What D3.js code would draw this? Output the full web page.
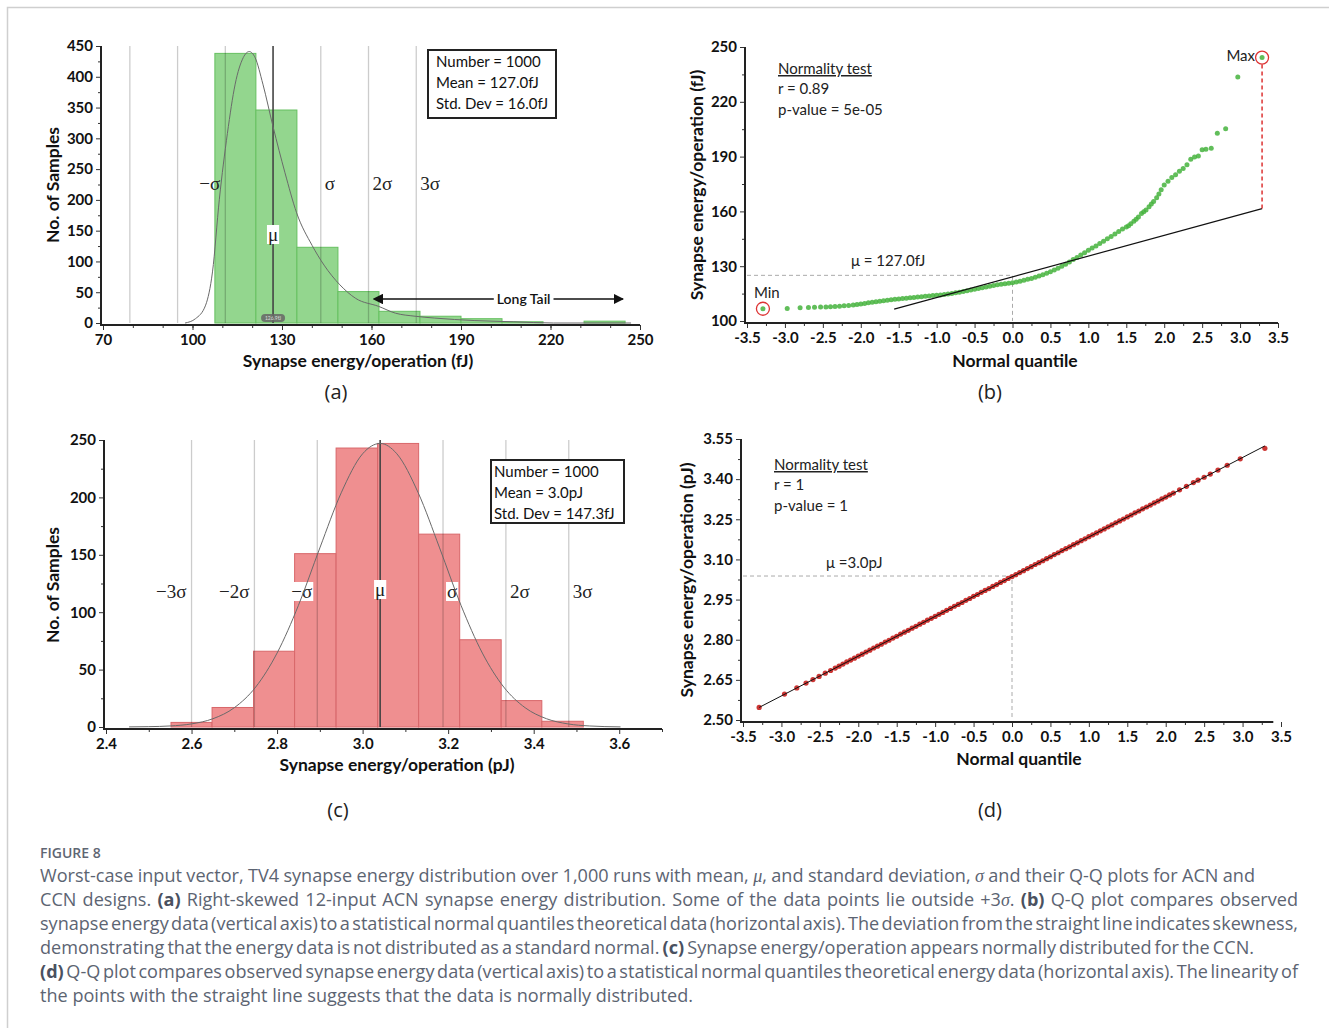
<!DOCTYPE html>
<html>
<head>
<meta charset="utf-8">
<script src="https://cdn.jsdelivr.net/npm/d3@7"></script>
<style>
  body { margin: 0; background: #fff; }
  svg { display: block; }
  .tick text { font-family: Lato, "Open Sans", sans-serif; font-weight: 700; font-size: 15px; fill: #111; }
  .tick line { stroke: #333; }
</style>
</head>
<body>
<div id="chart"></div>
<script>

// ---------- (a) ACN histogram, fJ ----------
var binEdgesA = [107.5, 121.25, 135, 148.75, 162.5, 176.25, 190, 203.75, 217.5, 231.25, 245];
var countsA = [438, 346, 123, 51, 19, 11, 7, 2, 0, 3];
var curveAx = [97.5, 101, 104.4, 106.7, 109, 111.7, 114.3, 117, 119, 121, 123.6, 127, 131, 134.9, 140.1, 144.1, 149.4, 154.7, 162.4, 168, 174.6, 181.2, 194.4, 207.7, 221, 247];
var curveAy = [0, 7, 29, 83, 201, 308, 388, 431, 441, 431, 388, 319, 244, 179, 126, 94, 62, 40, 27, 16, 11, 8, 4, 2, 0, 0];
var meanA = 127, sdA = 16;
var statsA = ["Number = 1000", "Mean = 127.0fJ", "Std. Dev = 16.0fJ"];
var xTicksA = [70, 100, 130, 160, 190, 220, 250];
var yTicksA = [0, 50, 100, 150, 200, 250, 300, 350, 400, 450];

// ---------- (b) ACN Q-Q plot ----------
var qB = [-3.29, -2.97, -2.80, -2.69, -2.61, -2.53, -2.46, -2.40, -2.34, -2.28, -2.22, -2.16, -2.10, -2.05, -2.00, -1.95, -1.90, -1.85, -1.80, -1.75, -1.70, -1.65, -1.60, -1.55, -1.50, -1.45, -1.40, -1.35, -1.30, -1.25, -1.20, -1.15, -1.10, -1.05, -1.00,
  -0.95, -0.90, -0.85, -0.80, -0.75, -0.70, -0.65, -0.60, -0.55, -0.50, -0.45, -0.40, -0.35, -0.30, -0.25, -0.20, -0.15, -0.10, -0.05, 0.00,
  0.05, 0.10, 0.15, 0.20, 0.25, 0.30, 0.35, 0.40, 0.45, 0.50, 0.55, 0.60, 0.65, 0.70, 0.75, 0.80, 0.85, 0.90, 0.95, 1.00,
  1.05, 1.10, 1.15, 1.20, 1.25, 1.30, 1.35, 1.40, 1.45, 1.50, 1.53, 1.56, 1.60, 1.63, 1.66, 1.70, 1.73, 1.76, 1.80, 1.83, 1.86, 1.90, 1.93, 1.96, 2.00,
  2.05, 2.10, 2.15, 2.20, 2.25, 2.30, 2.35, 2.40, 2.45, 2.50, 2.55, 2.62, 2.70, 2.81, 2.97, 3.29];
var vB = [106.7, 106.9, 107.2, 107.4, 107.5, 107.6, 107.7, 107.8, 108.0, 108.1, 108.3, 108.5, 108.8, 109.0, 109.3, 109.6, 110.0, 110.3, 110.6, 110.8, 111.1, 111.4, 111.6, 111.9, 112.1, 112.3, 112.5, 112.7, 112.9, 113.1, 113.3, 113.5, 113.7, 113.9, 114.1,
  114.3, 114.5, 114.8, 115.1, 115.4, 115.8, 116.2, 116.6, 117.0, 117.4, 117.8, 118.2, 118.6, 119.0, 119.4, 119.8, 120.1, 120.4, 120.7, 121.0,
  121.4, 121.8, 122.3, 122.8, 123.3, 123.9, 124.6, 125.3, 126.1, 127.0, 127.9, 128.9, 130.0, 131.1, 132.3, 133.6, 134.8, 136.1, 137.4, 138.7,
  139.9, 141.1, 142.4, 143.7, 145.0, 146.3, 147.6, 149.0, 150.4, 151.5, 152.2, 153.2, 154.6, 155.7, 156.9, 158.8, 159.8, 160.8, 162.5, 164.0, 165.4, 167.5, 169.5, 171.8, 174.5,
  176.5, 178.5, 180.0, 182.0, 183.5, 185.5, 188.5, 189.8, 190.3, 193.8, 194.0, 194.6, 202.8, 205.2, 233.6, 244.2];
var fitB = [[-1.56, 106.5], [3.29, 161.5]];
var muLevelB = 125;
var normB = ["r = 0.89", "p-value = 5e-05"];
var qTicks = [-3.5, -3.0, -2.5, -2.0, -1.5, -1.0, -0.5, 0.0, 0.5, 1.0, 1.5, 2.0, 2.5, 3.0, 3.5];
var yTicksB = [100, 130, 160, 190, 220, 250];

// ---------- (c) CCN histogram, pJ ----------
var binEdgesC = [2.552, 2.648, 2.745, 2.841, 2.938, 3.035, 3.131, 3.227, 3.324, 3.419, 3.516];
var countsC = [4, 17, 66, 151, 243, 247, 168, 76, 23, 5];
var curveCx = [2.454, 2.50, 2.55, 2.60, 2.65, 2.70, 2.75, 2.80, 2.85, 2.90, 2.95, 3.00, 3.041, 3.08, 3.13, 3.18, 3.23, 3.28, 3.33, 3.38, 3.43, 3.48, 3.53, 3.603];
var curveCy = [0.1, 0.3, 0.9, 2.7, 7.2, 16.8, 34.8, 64.4, 106, 156, 204, 238, 247, 238, 204, 156, 106, 64.4, 34.8, 16.8, 7.2, 2.7, 0.9, 0.1];
var meanC = 3.041, sdC = 0.147;
var statsC = ["Number = 1000", "Mean = 3.0pJ", "Std. Dev = 147.3fJ"];
var xTicksC = [2.4, 2.6, 2.8, 3.0, 3.2, 3.4, 3.6];
var yTicksC = [0, 50, 100, 150, 200, 250];

// ---------- (d) CCN Q-Q plot ----------
var qD = [-3.29, -2.96, -2.80, -2.68, -2.59, -2.51, -2.43, -2.36, -2.30, -2.25,
  -2.20, -2.15, -2.10, -2.05, -2.00, -1.95, -1.90, -1.85, -1.80, -1.75, -1.70, -1.65, -1.60, -1.55, -1.50, -1.45, -1.40, -1.35, -1.30, -1.25, -1.20, -1.15, -1.10, -1.05, -1.00,
  -0.95, -0.90, -0.85, -0.80, -0.75, -0.70, -0.65, -0.60, -0.55, -0.50, -0.45, -0.40, -0.35, -0.30, -0.25, -0.20, -0.15, -0.10, -0.05, 0.00,
  0.05, 0.10, 0.15, 0.20, 0.25, 0.30, 0.35, 0.40, 0.45, 0.50, 0.55, 0.60, 0.65, 0.70, 0.75, 0.80, 0.85, 0.90, 0.95, 1.00,
  1.05, 1.10, 1.15, 1.20, 1.25, 1.30, 1.35, 1.40, 1.45, 1.50, 1.55, 1.60, 1.65, 1.70, 1.75, 1.80, 1.85, 1.90, 1.95, 2.00, 2.05, 2.10,
  2.18, 2.27, 2.36, 2.42, 2.50, 2.58, 2.68, 2.80, 2.97, 3.29];
var vD = [2.547, 2.597, 2.620, 2.638, 2.651, 2.663, 2.675, 2.685, 2.694, 2.701,
  2.709, 2.717, 2.724, 2.731, 2.739, 2.746, 2.754, 2.761, 2.769, 2.776, 2.783, 2.791, 2.798, 2.806, 2.813, 2.821, 2.828, 2.835, 2.843, 2.850, 2.858, 2.865, 2.873, 2.880, 2.887,
  2.895, 2.902, 2.910, 2.917, 2.925, 2.932, 2.939, 2.947, 2.954, 2.962, 2.969, 2.977, 2.984, 2.991, 2.999, 3.006, 3.014, 3.021, 3.029, 3.036,
  3.043, 3.051, 3.058, 3.066, 3.073, 3.081, 3.088, 3.095, 3.103, 3.110, 3.118, 3.125, 3.133, 3.140, 3.147, 3.155, 3.162, 3.170, 3.177, 3.185,
  3.192, 3.199, 3.207, 3.214, 3.222, 3.229, 3.237, 3.244, 3.251, 3.259, 3.266, 3.274, 3.281, 3.289, 3.296, 3.303, 3.311, 3.318, 3.326, 3.333, 3.341, 3.348,
  3.360, 3.373, 3.387, 3.396, 3.407, 3.419, 3.434, 3.452, 3.476, 3.515];
var fitD = [[-3.29, 2.547], [3.29, 3.524]];
var muLevelD = 3.038;
var normD = ["r = 1", "p-value = 1"];
var yTicksD = [2.50, 2.65, 2.80, 2.95, 3.10, 3.25, 3.40, 3.55];

var sigmaK = [-3, -2, -1, 0, 1, 2, 3];
var sigmaLabelsA = ["", "", "−σ", "μ", "σ", "2σ", "3σ"];
var sigmaLabelsC = ["−3σ", "−2σ", "−σ", "μ", "σ", "2σ", "3σ"];

var captionLines = [
  [["Worst-case input vector, TV4 synapse energy distribution over 1,000 runs with mean, "], ["μ", "i"], [", and standard deviation, "], ["σ", "i"], [" and their Q-Q plots for ACN and"]],
  [["CCN designs. "], ["(a)", "b"], [" Right-skewed 12-input ACN synapse energy distribution. Some of the data points lie outside +3"], ["σ", "i"], [". "], ["(b)", "b"], [" Q-Q plot compares observed"]],
  [["synapse energy data (vertical axis) to a statistical normal quantiles theoretical data (horizontal axis). The deviation from the straight line indicates skewness,"]],
  [["demonstrating that the energy data is not distributed as a standard normal. "], ["(c)", "b"], [" Synapse energy/operation appears normally distributed for the CCN."]],
  [["(d)", "b"], [" Q-Q plot compares observed synapse energy data (vertical axis) to a statistical normal quantiles theoretical energy data (horizontal axis). The linearity of"]],
  [["the points with the straight line suggests that the data is normally distributed."]]
];
var captionWidths = [1215, 1258, 1258, 1214, 1258, 653];

var svg, width = 1329, height = 1028;
var FONT = "Lato, 'Open Sans', sans-serif";
var SERIF = "'Liberation Serif', 'DejaVu Serif', serif";

function init() {
    svg = d3.select("#chart").append("svg")
        .attr("width", width)
        .attr("height", height);

    svg.append("rect").attr("width", width).attr("height", height).attr("fill", "#fff");
    // faint page frame
    svg.append("path")
        .attr("d", "M7.5," + height + " V7.5 H" + width)
        .attr("fill", "none")
        .attr("stroke", "#cfcfcf")
        .attr("stroke-width", 1.5);

    drawPanelA();
    drawPanelB();
    drawPanelC();
    drawPanelD();
    drawCaption();
}

// axes with major/minor ticks, own axis lines
function drawAxes(x, y, o) {
    var gxMinor = svg.append("g").attr("transform", "translate(0," + o.xAt + ")")
        .call(d3.axisBottom(x).tickValues(o.xMinor).tickSize(3).tickFormat(""));
    var gx = svg.append("g").attr("transform", "translate(0," + o.xAt + ")")
        .call(d3.axisBottom(x).tickValues(o.xMajor).tickSize(5).tickPadding(4).tickFormat(o.xFmt));
    var gyMinor = svg.append("g").attr("transform", "translate(" + o.yAt + ",0)")
        .call(d3.axisLeft(y).tickValues(o.yMinor).tickSize(3).tickFormat(""));
    var gy = svg.append("g").attr("transform", "translate(" + o.yAt + ",0)")
        .call(d3.axisLeft(y).tickValues(o.yMajor).tickSize(5).tickPadding(3).tickFormat(o.yFmt));
    [gxMinor, gx, gyMinor, gy].forEach(function (g) { g.select(".domain").remove(); });

    svg.append("line")   // x axis line
        .attr("x1", o.xLine[0]).attr("x2", o.xLine[1])
        .attr("y1", o.xAt).attr("y2", o.xAt)
        .attr("stroke", "#222").attr("stroke-width", 2);
    svg.append("line")   // y axis line
        .attr("x1", o.yAt).attr("x2", o.yAt)
        .attr("y1", o.yLine[0]).attr("y2", o.yLine[1])
        .attr("stroke", "#222").attr("stroke-width", 2);
}

function axisTitles(xTitle, xPos, yTitle, yPos, letter, letterPos) {
    svg.append("text")
        .attr("x", xPos[0]).attr("y", xPos[1])
        .attr("text-anchor", "middle")
        .style("font-family", FONT).style("font-weight", 700).style("font-size", "17.5px")
        .attr("fill", "#111")
        .text(xTitle);
    svg.append("text")
        .attr("transform", "translate(" + yPos[0] + "," + yPos[1] + ") rotate(-90)")
        .attr("text-anchor", "middle")
        .style("font-family", FONT).style("font-weight", 700).style("font-size", "17.5px")
        .attr("fill", "#111")
        .text(yTitle);
    svg.append("text")
        .attr("x", letterPos[0]).attr("y", letterPos[1])
        .attr("text-anchor", "middle")
        .style("font-family", "'Open Sans', sans-serif").style("font-size", "20px")
        .attr("fill", "#222")
        .text(letter);
}

// put a white box behind a text element
function whiteBg(t, pad) {
    var b = t.node().getBBox();
    svg.insert("rect", function () { return t.node(); })
        .attr("x", b.x - pad).attr("y", b.y + 1)
        .attr("width", b.width + 2 * pad).attr("height", b.height - 2)
        .attr("fill", "#fff");
}

function statsBox(x0, y0, w, h, pad, lines) {
    svg.append("rect")
        .attr("x", x0).attr("y", y0).attr("width", w).attr("height", h)
        .attr("fill", "#fff").attr("stroke", "#222").attr("stroke-width", 2);
    svg.selectAll(null)
        .data(lines)
        .join("text")
        .attr("x", x0 + pad)
        .attr("y", function (d, i) { return y0 + 17 + i * 21; })
        .style("font-family", FONT).style("font-size", "15px")
        .attr("fill", "#111")
        .text(function (d) { return d; });
}

function sigmaLines(x, yTop, yBot, mean, sd, labels, labelY, bgSet) {
    svg.selectAll(null)
        .data(sigmaK)
        .join("line")
        .attr("x1", function (k) { return x(mean + k * sd); })
        .attr("x2", function (k) { return x(mean + k * sd); })
        .attr("y1", yTop).attr("y2", yBot)
        .attr("stroke", function (k) { return k == 0 ? "#444" : "rgba(0,0,0,0.2)"; })
        .attr("stroke-width", function (k) { return k == 0 ? 1.6 : 1.3; });

    sigmaK.forEach(function (k, i) {
        if (!labels[i]) return;
        var lx = x(mean + k * sd);
        var t = svg.append("text")
            .attr("x", k < 0 ? lx - 5 : (k > 0 ? lx + 4 : lx))
            .attr("y", k == 0 ? labelY[1] : labelY[0])
            .attr("text-anchor", k < 0 ? "end" : (k > 0 ? "start" : "middle"))
            .style("font-family", SERIF).style("font-size", "19px")
            .attr("fill", "#222")
            .text(labels[i]);
        if (bgSet.indexOf(k) >= 0) whiteBg(t, 1);
    });
}

function drawPanelA() {
    var x = d3.scaleLinear().domain([70, 250]).range([103, 640]);
    var y = d3.scaleLinear().domain([0, 450]).range([323, 46]);

    var bars = countsA.map(function (c, i) { return { x0: binEdgesA[i], x1: binEdgesA[i + 1], n: c }; });
    svg.selectAll(".barA")
        .data(bars.filter(function (d) { return d.n > 0; }))
        .join("rect")
        .attr("class", "barA")
        .attr("x", function (d) { return x(d.x0); })
        .attr("width", function (d) { return x(d.x1) - x(d.x0); })
        .attr("y", function (d) { return y(d.n); })
        .attr("height", function (d) { return y(0) - y(d.n); })
        .attr("fill", "#93d68e")
        .attr("stroke", "#66c060")
        .attr("stroke-width", 1);

    sigmaLines(x, y(450), y(0), meanA, sdA, sigmaLabelsA, [190, 241], [0]);

    // fitted density curve
    var pts = curveAx.map(function (d, i) { return [x(d), y(curveAy[i])]; });
    svg.append("path")
        .attr("d", d3.line().curve(d3.curveMonotoneX)(pts))
        .attr("fill", "none")
        .attr("stroke", "#6a6a6a")
        .attr("stroke-width", 1);

    // tiny mean badge near the axis
    svg.append("rect")
        .attr("x", x(meanA) - 12).attr("y", y(0) - 9)
        .attr("width", 24).attr("height", 8).attr("rx", 4)
        .attr("fill", "#666").attr("opacity", 0.85);
    svg.append("text")
        .attr("x", x(meanA)).attr("y", y(0) - 3)
        .attr("text-anchor", "middle")
        .style("font-family", FONT).style("font-size", "5px")
        .attr("fill", "#ddd")
        .text("126.9fJ");

    drawAxes(x, y, {
        xAt: y(0) + 2, yAt: x(70) - 2,
        xMajor: xTicksA, xMinor: d3.range(70, 251, 10),
        yMajor: yTicksA, yMinor: d3.range(25, 450, 50),
        xFmt: d3.format("d"), yFmt: d3.format("d"),
        xLine: [x(70) - 3, x(250)], yLine: [y(450), y(0) + 3]
    });

    statsBox(428, 50, 128, 68, 8, statsA);

    // long tail arrow
    var defs = svg.append("defs");
    ["arrEnd", "arrStart"].forEach(function (id, i) {
        defs.append("marker")
            .attr("id", id)
            .attr("viewBox", "0 0 10 10")
            .attr("refX", i == 0 ? 9 : 1).attr("refY", 5)
            .attr("markerWidth", 7).attr("markerHeight", 7)
            .attr("orient", "auto-start-reverse")
            .append("path").attr("d", "M0,0 L10,5 L0,10 z").attr("fill", "#111");
    });
    var tailY = y(39);
    svg.append("line")
        .attr("x1", x(binEdgesA[4]) + 3).attr("x2", x(244.3))
        .attr("y1", tailY).attr("y2", tailY)
        .attr("stroke", "#111").attr("stroke-width", 1.5)
        .attr("marker-start", "url(#arrStart)")
        .attr("marker-end", "url(#arrEnd)");
    var lt = svg.append("text")
        .attr("x", x(211)).attr("y", tailY + 5)
        .attr("text-anchor", "middle")
        .style("font-family", FONT).style("font-size", "14px").style("font-weight", 600)
        .attr("fill", "#111")
        .text("Long Tail");
    whiteBg(lt, 3);

    axisTitles("Synapse energy/operation (fJ)", [358, 367], "No. of Samples", [59, 185], "(a)", [336, 399]);
}

function drawPanelB() {
    var x = d3.scaleLinear().domain([-3.5, 3.5]).range([747, 1278]);
    var y = d3.scaleLinear().domain([100, 250]).range([321, 47]);

    // mean guide
    svg.append("path")
        .attr("d", "M" + x(-3.5) + "," + y(muLevelB) + " H" + x(0) + " V" + y(100))
        .attr("fill", "none").attr("stroke", "#aaa").attr("stroke-width", 1).attr("stroke-dasharray", "4,3");

    svg.selectAll(".ptB")
        .data(qB.map(function (q, i) { return [q, vB[i]]; }))
        .join("circle")
        .attr("class", "ptB")
        .attr("cx", function (d) { return x(d[0]); })
        .attr("cy", function (d) { return y(d[1]); })
        .attr("r", 2.5)
        .attr("fill", "#45b33d")
        .attr("opacity", 0.85);

    svg.append("line")
        .attr("x1", x(fitB[0][0])).attr("y1", y(fitB[0][1]))
        .attr("x2", x(fitB[1][0])).attr("y2", y(fitB[1][1]))
        .attr("stroke", "#111").attr("stroke-width", 1.2);

    // max deviation
    var last = qB.length - 1;
    svg.append("line")
        .attr("x1", x(qB[last])).attr("x2", x(qB[last]))
        .attr("y1", y(vB[last]) + 7).attr("y2", y(fitB[1][1]))
        .attr("stroke", "#d33").attr("stroke-width", 1.5).attr("stroke-dasharray", "4,3");

    [[0, "Min"], [last, "Max"]].forEach(function (m) {
        var cx = x(qB[m[0]]), cy = y(vB[m[0]]);
        svg.append("circle")
            .attr("cx", cx).attr("cy", cy).attr("r", 6.5)
            .attr("fill", "none").attr("stroke", "#d33").attr("stroke-width", 1.3);
        svg.append("text")
            .attr("x", m[1] == "Min" ? cx - 9 : cx - 7)
            .attr("y", m[1] == "Min" ? cy - 11 : cy + 3)
            .attr("text-anchor", m[1] == "Min" ? "start" : "end")
            .style("font-family", FONT).style("font-size", "15px")
            .attr("fill", "#222")
            .text(m[1]);
    });

    drawAxes(x, y, {
        xAt: y(100) + 2, yAt: x(-3.5) - 2,
        xMajor: qTicks, xMinor: d3.range(-3.25, 3.5, 0.5),
        yMajor: yTicksB, yMinor: d3.range(115, 250, 30),
        xFmt: function (d) { return d.toFixed(1); }, yFmt: d3.format("d"),
        xLine: [x(-3.5) - 3, x(3.5)], yLine: [y(250), y(100) + 3]
    });

    normalityText(778, 74, normB);
    svg.append("text")
        .attr("x", 851).attr("y", 266)
        .style("font-family", FONT).style("font-size", "15px")
        .attr("fill", "#222")
        .text("μ = 127.0fJ");

    axisTitles("Normal quantile", [1015, 367], "Synapse energy/operation (fJ)", [703, 185], "(b)", [990, 399]);
}

function normalityText(x0, y0, lines) {
    svg.append("text")
        .attr("x", x0).attr("y", y0)
        .style("font-family", FONT).style("font-size", "15px")
        .attr("text-decoration", "underline")
        .attr("fill", "#222")
        .text("Normality test");
    svg.selectAll(null)
        .data(lines)
        .join("text")
        .attr("x", x0)
        .attr("y", function (d, i) { return y0 + 20 + i * 21; })
        .style("font-family", FONT).style("font-size", "15px")
        .attr("fill", "#222")
        .text(function (d) { return d; });
}

function drawPanelC() {
    var x = d3.scaleLinear().domain([2.4, 3.7]).range([106, 662]);
    var y = d3.scaleLinear().domain([0, 250]).range([727, 440]);

    var bars = countsC.map(function (c, i) { return { x0: binEdgesC[i], x1: binEdgesC[i + 1], n: c }; });
    svg.selectAll(".barC")
        .data(bars)
        .join("rect")
        .attr("class", "barC")
        .attr("x", function (d) { return x(d.x0); })
        .attr("width", function (d) { return x(d.x1) - x(d.x0); })
        .attr("y", function (d) { return y(d.n); })
        .attr("height", function (d) { return y(0) - y(d.n); })
        .attr("fill", "#ef8f90")
        .attr("stroke", "#d8676a")
        .attr("stroke-width", 1);

    sigmaLines(x, y(250), y(0), meanC, sdC, sigmaLabelsC, [598, 596], [-1, 0, 1]);

    var pts = curveCx.map(function (d, i) { return [x(d), y(curveCy[i])]; });
    svg.append("path")
        .attr("d", d3.line().curve(d3.curveMonotoneX)(pts))
        .attr("fill", "none")
        .attr("stroke", "#6a6a6a")
        .attr("stroke-width", 1);

    drawAxes(x, y, {
        xAt: y(0) + 2, yAt: x(2.4) - 2,
        xMajor: xTicksC, xMinor: d3.range(2.5, 3.71, 0.2),
        yMajor: yTicksC, yMinor: d3.range(25, 250, 50),
        xFmt: function (d) { return d.toFixed(1); }, yFmt: d3.format("d"),
        xLine: [x(2.4) - 3, x(3.7)], yLine: [y(250), y(0) + 3]
    });

    statsBox(491, 460, 133, 63, 3, statsC);

    axisTitles("Synapse energy/operation (pJ)", [397, 771], "No. of Samples", [59, 585], "(c)", [338, 817]);
}

function drawPanelD() {
    var x = d3.scaleLinear().domain([-3.5, 3.5]).range([743, 1281]);
    var y = d3.scaleLinear().domain([2.5, 3.55]).range([720, 439]);

    svg.append("path")
        .attr("d", "M" + x(-3.5) + "," + y(muLevelD) + " H" + x(0) + " V" + y(2.5))
        .attr("fill", "none").attr("stroke", "#aaa").attr("stroke-width", 1).attr("stroke-dasharray", "4,3");

    svg.selectAll(".ptD")
        .data(qD.map(function (q, i) { return [q, vD[i]]; }))
        .join("circle")
        .attr("class", "ptD")
        .attr("cx", function (d) { return x(d[0]); })
        .attr("cy", function (d) { return y(d[1]); })
        .attr("r", 2.6)
        .attr("fill", "#c7201e")
        .attr("opacity", 0.9);

    svg.append("line")
        .attr("x1", x(fitD[0][0])).attr("y1", y(fitD[0][1]))
        .attr("x2", x(fitD[1][0])).attr("y2", y(fitD[1][1]))
        .attr("stroke", "#111").attr("stroke-width", 1);

    drawAxes(x, y, {
        xAt: y(2.5) + 2, yAt: x(-3.5) - 2,
        xMajor: qTicks, xMinor: d3.range(-3.25, 3.5, 0.5),
        yMajor: yTicksD, yMinor: d3.range(2.575, 3.55, 0.15),
        xFmt: function (d) { return d.toFixed(1); }, yFmt: function (d) { return d.toFixed(2); },
        xLine: [x(-3.5) - 3, x(3.4)], yLine: [y(3.55), y(2.5) + 3]
    });

    normalityText(774, 470, normD);
    svg.append("text")
        .attr("x", 826).attr("y", 568)
        .style("font-family", FONT).style("font-size", "15px")
        .attr("fill", "#222")
        .text("μ =3.0pJ");

    axisTitles("Normal quantile", [1019, 765], "Synapse energy/operation (pJ)", [693, 580], "(d)", [990, 817]);
}

function drawCaption() {
    var capFont = "'Open Sans', sans-serif";
    svg.append("text")
        .attr("x", 40).attr("y", 858)
        .style("font-family", capFont).style("font-size", "14px").style("font-weight", 600)
        .attr("fill", "#5f6673")
        .text("FIGURE 8");

    // pick a size from the last (unjustified) line, then stretch words to the measured widths
    var probe = svg.append("text").style("font-family", capFont).style("font-size", "17px")
        .text(captionLines[5][0][0]);
    var fs = 17 * captionWidths[5] / probe.node().getComputedTextLength();
    probe.remove();

    captionLines.forEach(function (segs, i) {
        var t = svg.append("text")
            .attr("x", 40).attr("y", 882 + i * 24)
            .style("font-family", capFont).style("font-size", fs + "px")
            .attr("fill", "#5c6472");
        segs.forEach(function (s) {
            var sp = t.append("tspan").text(s[0]);
            if (s[1] == "b") sp.style("font-weight", 700).attr("fill", "#4a5160");
            if (s[1] == "i") sp.style("font-family", SERIF).style("font-style", "italic");
        });
        var len = t.node().getComputedTextLength();
        var spaces = segs.map(function (s) { return s[0]; }).join("").split(" ").length - 1;
        if (spaces > 0) t.style("word-spacing", ((captionWidths[i] - len) / spaces) + "px");
    });
}

window.onload = init();
</script>
</body>
</html>
